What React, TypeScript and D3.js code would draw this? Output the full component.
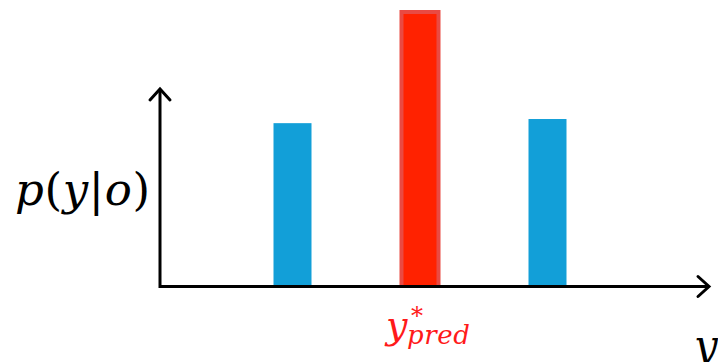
import React from "react";
import * as d3 from "d3";

// Discrete probability bars around the predicted class
const categories = ["y1", "ypred", "y3"];
const probs = [0.59, 1.0, 0.605];
const barColors = ["#129fd8", "#ff2200", "#129fd8"];
const highlight = [false, true, false];

const W = 718;
const H = 362;
const axisX = 160;
const axisY = 286.5;

export default function App() {
  const x = d3.scalePoint<string>().domain(categories).range([292.5, 547.5]);
  const y = d3.scaleLinear().domain([0, 1]).range([286, 10]);
  const barW = 38;

  const mathFont = "'DejaVu Serif', 'Liberation Serif', serif";

  return (
    <svg
      width={W}
      height={H}
      style={{ position: "absolute", left: 0, top: 0, background: "#fff" }}
    >
      {categories.map((c, i) => {
        const cx = x(c) as number;
        const top = y(probs[i]);
        const bottom = y(0);
        if (highlight[i]) {
          return (
            <g key={c}>
              <rect
                x={cx - barW / 2 - 1.5}
                y={top}
                width={barW + 3}
                height={bottom - top}
                fill="#e94a43"
              />
              <rect
                x={cx - barW / 2 + 2.5}
                y={top + 4}
                width={barW - 5}
                height={bottom - top - 4}
                fill={barColors[i]}
              />
            </g>
          );
        }
        return (
          <rect
            key={c}
            x={cx - barW / 2}
            y={top}
            width={barW}
            height={bottom - top}
            fill={barColors[i]}
          />
        );
      })}

      {/* axes */}
      <line x1={axisX} y1={axisY} x2={709} y2={axisY} stroke="#000" strokeWidth={3} />
      <polyline
        points={`${698},${axisY - 10} ${709},${axisY} ${698},${axisY + 10}`}
        fill="none"
        stroke="#000"
        strokeWidth={3}
        strokeLinecap="round"
        strokeLinejoin="miter"
      />
      <line x1={axisX} y1={axisY + 1.5} x2={axisX} y2={89} stroke="#000" strokeWidth={3} />
      <polyline
        points={`${axisX - 10},${100} ${axisX},${89} ${axisX + 10},${100}`}
        fill="none"
        stroke="#000"
        strokeWidth={3}
        strokeLinecap="round"
        strokeLinejoin="miter"
      />

      {/* y-axis label */}
      <text
        x={15}
        y={205}
        fontFamily={mathFont}
        fontSize={45}
        fill="#000"
        textLength={135}
        lengthAdjust="spacing"
      >
        <tspan fontStyle="italic">p</tspan>
        <tspan>(</tspan>
        <tspan fontStyle="italic">y</tspan>
        <tspan>|</tspan>
        <tspan fontStyle="italic">o</tspan>
        <tspan>)</tspan>
      </text>

      {/* predicted label */}
      <g fill="#ff1a1a" fontFamily={mathFont} fontStyle="italic">
        <text x={386} y={338} fontSize={38}>y</text>
        <text x={411} y={324} fontSize={24} fontStyle="normal">*</text>
        <text x={407} y={344} fontSize={26} textLength={63} lengthAdjust="spacing">pred</text>
      </g>

      {/* x-axis label */}
      <text x={694} y={360} fontFamily={mathFont} fontSize={42} fontStyle="italic" fill="#000">
        y
      </text>
    </svg>
  );
}
